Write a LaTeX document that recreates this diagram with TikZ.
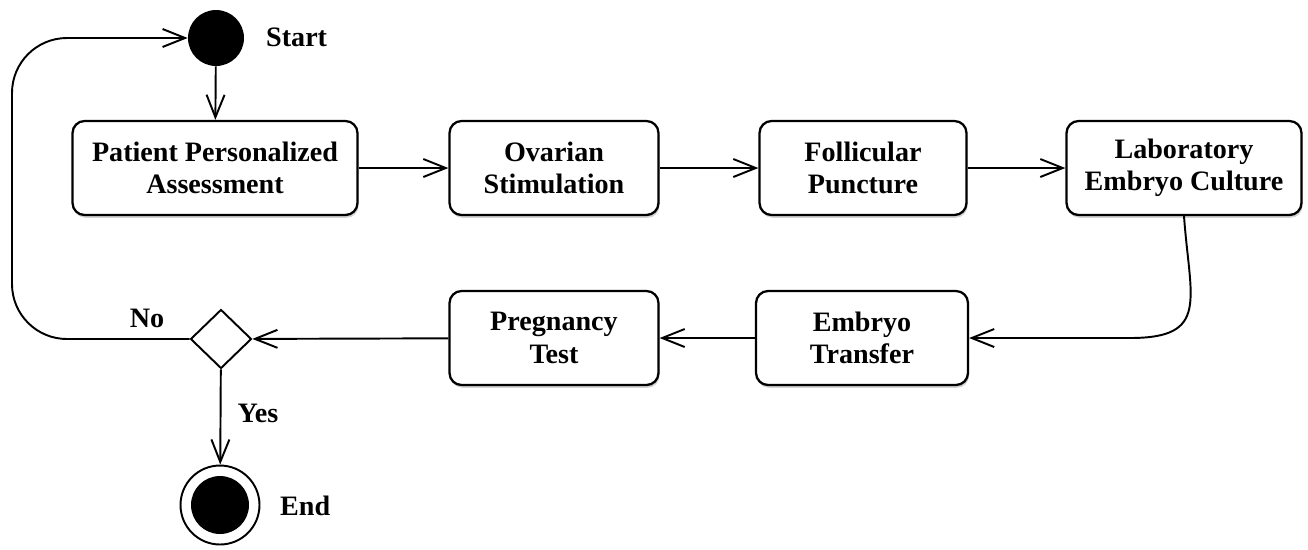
\documentclass[tikz,border=0pt]{standalone}
\usepackage{fontspec}
\setmainfont{Liberation Serif}
\usetikzlibrary{arrows.meta,shapes.geometric,shadows}

\tikzset{
    stepbox/.style={draw, line width=1.3pt, rounded corners=0.24cm, fill=white,
        align=center, font=\fontsize{16}{18.5}\selectfont\bfseries, inner sep=2pt,
        minimum height=1.88cm,
        drop shadow={opacity=0.35, shadow xshift=0.6pt, shadow yshift=-1.6pt}},
    flow/.style={line width=1.1pt, -{Straight Barb[length=4.5mm,width=3.6mm,line width=1.1pt]}},
    lbl/.style={font=\fontsize{16}{18.5}\selectfont\bfseries}
}

\begin{document}
\begin{tikzpicture}[x=0.02cm, y=-0.02cm]
    \useasboundingbox (0,0) rectangle (1308,549);

    % start and first row
    \node[circle, fill=black, minimum size=1.12cm, inner sep=0pt] (start) at (216,38) {};
    \node[lbl, anchor=west] (startlbl) at (260,37) {Start};

    \node[stepbox, minimum width=5.7cm] (assess) at (215,168) {Patient Personalized\\Assessment};
    \node[stepbox, minimum width=4.18cm] (stim) at (554,168) {Ovarian\\Stimulation};
    \node[stepbox, minimum width=4.14cm] (punct) at (863,168) {Follicular\\Puncture};
    \node[stepbox, minimum width=4.7cm] (culture) at (1184,168) {Laboratory\\Embryo Culture};

    % second row
    \node[stepbox, minimum width=4.24cm] (transfer) at (862,338) {Embryo\\Transfer};
    \node[stepbox, minimum width=4.18cm] (test) at (554,338) {Pregnancy\\Test};
    \node[diamond, draw, line width=1.1pt, fill=white, minimum width=1.22cm,
        minimum height=1.18cm, inner sep=0pt] (dec) at (221,339) {};

    % end
    \node[circle, draw, line width=1.1pt, minimum size=1.58cm, inner sep=0pt,
        path picture={\fill (path picture bounding box.center) circle (0.58cm);}] (end) at (220,505) {};
    \node[lbl, anchor=west] (endlbl) at (274,506) {End};

    \node[lbl] (nolbl) at (147,318) {No};
    \node[lbl] (yeslbl) at (258,413) {Yes};

    \coordinate (loop) at (12,190);

    % connectors
    \draw[flow] (start) -- (assess);
    \draw[flow] (assess) -- (stim);
    \draw[flow] (stim) -- (punct);
    \draw[flow] (punct) -- (culture);
    \draw[flow] (culture.south) .. controls (1190,300) and (1210,338) .. (1130,338) -- (transfer.east);
    \draw[flow] (transfer) -- (test);
    \draw[flow] (test) -- (dec);
    \draw[flow] (dec) -- (end);
    \draw[flow, rounded corners=1.1cm] (dec.west) -| (loop) |- (start.west);
\end{tikzpicture}
\end{document}
